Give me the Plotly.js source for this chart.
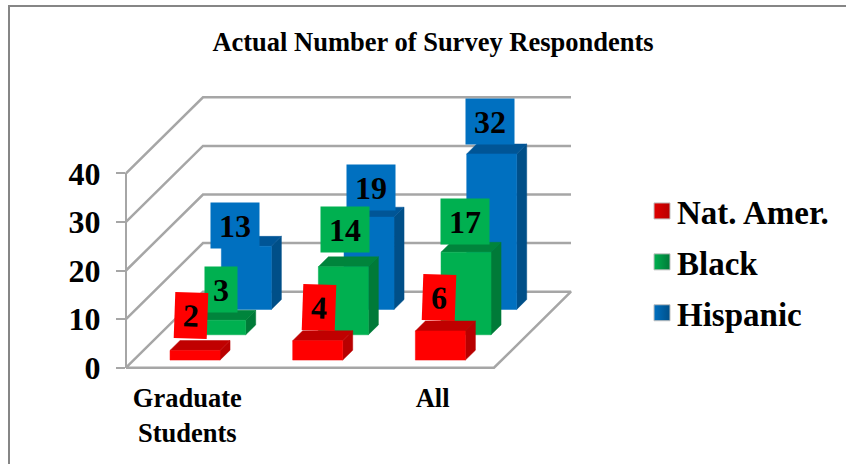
<!DOCTYPE html>
<html>
<head>
<meta charset="utf-8">
<script src="https://cdn.plot.ly/plotly-3.0.1.min.js"></script>
<style>html,body{margin:0;padding:0;background:#fff}</style>
</head>
<body>
<div id="chart" style="width:846px;height:464px"></div>
<script>
// Survey respondents by group
const categories = ['Graduate<br>Students', '', 'All'];
const seriesNames = ['Nat. Amer.', 'Black', 'Hispanic'];
const natAmer = [2, 4, 6];
const black = [3, 14, 17];
const hispanic = [13, 19, 32];
const valueTicks = [0, 10, 20, 30, 40];

// Face colours per series: front, side, top
const frontColors = ['#ff0000', '#00b050', '#0070c0'];
const sideColors = ['#b80000', '#007a38', '#004f88'];
const topColors = ['#c00000', '#00843c', '#005596'];

// Value-tag placement relative to the front top of each bar, in pixels
const tagShiftX = [[-4, 1, -1], [0, 2, -1], [-11, 2, -1.5]];
const tagShiftY = [[35, 33, 33], [31, 37.5, 31], [21, 30, 32]];
const tagAngle = [2, 0, 0];

const W = 846, H = 464;
const axisLeft = 126, axisRight = 494, zeroY = 367.7, fortyY = 173.3;
const catPx = (axisRight - axisLeft) / categories.length;
const unitPx = (zeroY - fortyY) / 40;
const depthX = 77 / catPx;   // horizontal reach of the floor, in category units
const depthY = 76 / unitPx;  // vertical reach of the floor, in value units
const barFrac = 50 / catPx;
const rowNear = 0.3, rowFar = 0.69;

// Oblique projection: depth 0 is the front plane, depth 1 the back wall
const px = (cat, d) => cat + d * depthX;
const py = (val, d) => val + d * depthY;

function polyTrace(faces, color) {
  const xs = [], ys = [];
  faces.forEach(f => {
    f.forEach(p => { xs.push(px(p[0], p[2])); ys.push(py(p[1], p[2])); });
    xs.push(xs[xs.length - f.length]); ys.push(ys[ys.length - f.length]);
    xs.push(null); ys.push(null);
  });
  return {x: xs, y: ys, mode: 'lines', fill: 'toself', fillcolor: color,
          line: {color: color, width: 0.5}, hoverinfo: 'skip', showlegend: false, connectgaps: false};
}

const wallColor = '#a6a6a6';
const traces = [];

// Floor outline and gridlines on the side and back walls
const nCat = categories.length;
traces.push({
  x: [0, nCat, nCat, 0, 0].map((c, i) => px(c, [0, 0, 1, 1, 0][i])),
  y: [0, 0, 0, 0, 0].map((v, i) => py(v, [0, 0, 1, 1, 0][i])),
  mode: 'lines', line: {color: wallColor, width: 2.5}, hoverinfo: 'skip', showlegend: false
});
valueTicks.slice(1).forEach(v => {
  traces.push({
    x: [px(0, 0), px(0, 1), px(nCat, 1)],
    y: [py(v, 0), py(v, 1), py(v, 1)],
    mode: 'lines', line: {color: wallColor, width: 2.5}, hoverinfo: 'skip', showlegend: false
  });
});

// Bars, back row first so nearer rows paint over them
const values = [natAmer, black, hispanic];
[2, 1, 0].forEach(s => {
  const near = (s + rowNear) / 3, far = (s + rowFar) / 3;
  const front = [], side = [], top = [];
  values[s].forEach((v, c) => {
    const l = c + (1 - barFrac) / 2, r = l + barFrac;
    front.push([[l, 0, near], [r, 0, near], [r, v, near], [l, v, near]]);
    side.push([[r, 0, near], [r, 0, far], [r, v, far], [r, v, near]]);
    top.push([[l, v, near], [r, v, near], [r, v, far], [l, v, far]]);
  });
  traces.push(polyTrace(side, sideColors[s]));
  traces.push(polyTrace(top, topColors[s]));
  traces.push(polyTrace(front, frontColors[s]));
});

// Value axis drawn on the front plane
traces.push({x: [0, 0], y: [0, 40], yaxis: 'y2', mode: 'lines',
  line: {color: wallColor, width: 2}, hoverinfo: 'skip', showlegend: false});

// Legend keys
seriesNames.forEach((name, s) => {
  traces.push({
    x: [null], y: [null], name: name, mode: 'markers', legendgroup: name,
    marker: {symbol: 'square', size: 16, color: frontColors[s] === '#ff0000' ? '#e00000' : frontColors[s],
             gradient: {type: 'horizontal', color: sideColors[s]},
             line: {color: '#bfbfbf', width: 1}}
  });
});

// Coloured value tags, nearest series on top; one-digit tags are narrower
const annotations = [];
[2, 1, 0].forEach(s => {
  const near = (s + rowNear) / 3;
  values[s].forEach((v, c) => {
    annotations.push({
      x: px(c + 0.5, near), y: py(v, near), xref: 'x', yref: 'y',
      xshift: tagShiftX[s][c], yshift: tagShiftY[s][c],
      text: String(v), showarrow: false, bgcolor: frontColors[s],
      width: v < 10 ? 32 : 48, height: 45, borderpad: 0, align: 'center', valign: 'middle',
      textangle: tagAngle[s], xanchor: 'center', yanchor: 'middle',
      font: {family: 'Liberation Serif', size: 32, color: '#000', weight: 700}
    });
  });
});

const serif = 'Liberation Serif';
const layout = {
  width: W, height: H, margin: {l: 0, r: 0, t: 0, b: 0, pad: 0},
  paper_bgcolor: '#fff', plot_bgcolor: 'rgba(0,0,0,0)',
  title: {text: '<b>Actual Number of Survey Respondents</b>', x: 433 / W, xanchor: 'center',
          y: 1 - 42 / H, yanchor: 'middle', font: {family: serif, size: 26.5, color: '#000'}},
  xaxis: {
    range: [-axisLeft / catPx, (W - axisLeft) / catPx], showgrid: false, zeroline: false,
    showline: false, ticks: '', anchor: 'free', position: (H - zeroY) / H,
    tickmode: 'array', tickvals: categories.map((_, i) => i + 0.5), ticktext: categories,
    ticklabelstandoff: 12, tickangle: 0,
    tickfont: {family: serif, size: 26.5, color: '#000', weight: 700}
  },
  yaxis: {range: [-(H - zeroY) / unitPx, zeroY / unitPx], visible: false},
  yaxis2: {
    domain: [(H - zeroY) / H, (H - fortyY) / H], range: [0, 40], anchor: 'free',
    position: axisLeft / W, side: 'left', showgrid: false, zeroline: false,
    showline: true, linecolor: wallColor, linewidth: 2,
    ticks: 'outside', ticklen: 9, tickwidth: 2, tickcolor: wallColor,
    tickmode: 'array', tickvals: valueTicks, ticklabelstandoff: 9,
    tickfont: {family: serif, size: 32, color: '#000', weight: 700}
  },
  legend: {
    x: 637 / W, y: 1 - 183 / H, xanchor: 'left', yanchor: 'top',
    traceorder: 'grouped', tracegroupgap: 5, bgcolor: 'rgba(0,0,0,0)',
    font: {family: serif, size: 33, color: '#000', weight: 700}
  },
  shapes: [{
    type: 'path', xref: 'paper', yref: 'paper', line: {color: '#868686', width: 2},
    path: `M ${9 / W} 0 L ${9 / W} ${1 - 6 / H} L 1 ${1 - 6 / H}`
  }],
  annotations: annotations,
  showlegend: true
};

Plotly.newPlot('chart', traces, layout, {displayModeBar: false, staticPlot: true}).then(gd => {
  // Pull the legend keys closer to their labels
  gd.querySelectorAll('.legendsymbols').forEach(g => g.setAttribute('transform', 'translate(5,0)'));
});
</script>
</body>
</html>
